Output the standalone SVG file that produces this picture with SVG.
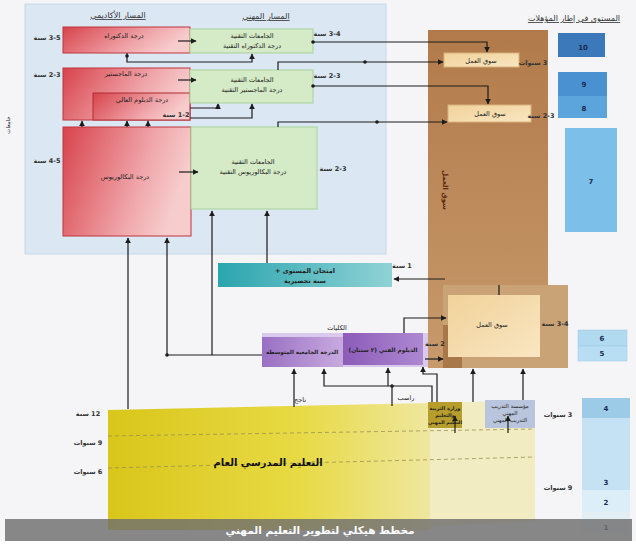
<svg xmlns="http://www.w3.org/2000/svg" width="636" height="547" viewBox="0 0 636 547">
<style>
text{font-family:"DejaVu Sans","Liberation Sans",sans-serif;direction:rtl;unicode-bidi:embed;text-anchor:middle;fill:#222}
.t{font-size:6.5px}
.b{font-size:7px;font-weight:bold}
.lbl{font-size:6.5px;font-weight:bold;fill:#333}
.hd{font-size:8px;text-decoration:underline;fill:#333}
.ln{fill:none;stroke:#1c1c1c;stroke-width:1.2}
.ar{marker-end:url(#ah)}
.dot{fill:#1c1c1c}
.lv{font-size:7px;font-weight:bold;fill:#1a2a50}
</style>
<defs>
<marker id="ah" viewBox="0 0 10 10" refX="9" refY="5" markerWidth="5" markerHeight="5" orient="auto"><path d="M0,0 L10,5 L0,10 z" fill="#1c1c1c"/></marker>
<linearGradient id="red" x1="0" y1="0" x2="1" y2="0.3"><stop offset="0" stop-color="#d8434c"/><stop offset="0.7" stop-color="#f0a8ac"/><stop offset="1" stop-color="#f7cccd"/></linearGradient>
<linearGradient id="cyan" x1="0" y1="0" x2="1" y2="0"><stop offset="0" stop-color="#2ba5ae"/><stop offset="1" stop-color="#8fd2d5"/></linearGradient>
<linearGradient id="pl" x1="0" y1="0" x2="1" y2="0"><stop offset="0" stop-color="#9a70c3"/><stop offset="1" stop-color="#c8aadf"/></linearGradient>
<linearGradient id="pr" x1="0" y1="0" x2="1" y2="0"><stop offset="0" stop-color="#8c5cb8"/><stop offset="1" stop-color="#ae88d2"/></linearGradient>
<linearGradient id="yel" x1="0" y1="0" x2="1" y2="0"><stop offset="0" stop-color="#d9c61a"/><stop offset="0.6" stop-color="#e8da45"/><stop offset="1" stop-color="#efe7a0"/></linearGradient>
<linearGradient id="brn" x1="0" y1="0" x2="0" y2="1"><stop offset="0" stop-color="#b27a4a"/><stop offset="1" stop-color="#c79a6c"/></linearGradient>
<linearGradient id="mk" x1="0" y1="0" x2="1" y2="1"><stop offset="0" stop-color="#f1d29a"/><stop offset="1" stop-color="#f9e6c2"/></linearGradient>
</defs>
<rect x="0" y="0" width="636" height="547" fill="#f5f5f7"/>
<g id="panel-blue"><rect x="25" y="4" width="361" height="250" fill="#dbe7f3" stroke="#c7d7e8"/></g>
<g id="headers">
<text class="hd" x="118" y="18">المسار الأكاديمي</text>
<text class="hd" x="266" y="19">المسار المهني</text>
<text class="hd" x="574" y="21">المستوى في إطار المؤهلات</text>
<text class="t" x="10" y="125" transform="rotate(-90 10 125)" style="font-size:5.5px">جامعات</text>
</g>
<g id="brown">
<rect x="428" y="30" width="120" height="338" fill="url(#brn)"/>
<rect x="443" y="285" width="125" height="83" fill="#c9a276"/>
<rect x="443" y="325" width="19" height="43" fill="#a9784a"/>
<text class="b" x="443" y="190" transform="rotate(90 443 190)" style="fill:#5a2a10">سوق العمل</text>
</g>
<g id="doc-red"><rect x="63" y="27" width="127" height="26" fill="url(#red)" stroke="#c0353d"/><text class="t" x="124" y="38">درجة الدكتوراه</text></g>
<g id="doc-green"><rect x="190" y="29" width="123" height="24" fill="#d5eac6" stroke="#a9d39b"/><text class="t" x="252" y="38">الجامعات التقنية</text><text class="t" x="252" y="48">درجة الدكتوراه التقنية</text></g>
<g id="master-red"><rect x="63" y="68" width="127" height="52" fill="url(#red)" stroke="#c0353d"/><text class="t" x="126" y="76">درجة الماجستير</text></g>
<g id="diploma-red"><rect x="93" y="93" width="97" height="27" fill="url(#red)" stroke="#b02a33"/><text class="t" x="142" y="102">درجة الدبلوم العالي</text><text class="lbl" x="176" y="117">1-2 سنة</text></g>
<g id="master-green"><rect x="190" y="70" width="123" height="33" fill="#d5eac6" stroke="#a9d39b"/><text class="t" x="252" y="82">الجامعات التقنية</text><text class="t" x="252" y="92">درجة الماجستير التقنية</text></g>
<g id="bach-red"><rect x="63" y="127" width="128" height="109" fill="url(#red)" stroke="#c0353d"/><text class="t" x="125" y="179">درجة البكالوريوس</text></g>
<g id="bach-green"><rect x="191" y="127" width="126" height="82" fill="#d5eac6" stroke="#a9d39b"/><text class="t" x="253" y="164">الجامعات التقنية</text><text class="t" x="253" y="174">درجة البكالوريوس التقنية</text></g>
<g id="market1"><rect x="444" y="53" width="75" height="14" fill="url(#mk)" stroke="#d8b27c"/><text class="t" x="481" y="63">سوق العمل</text></g>
<g id="market2"><rect x="448" y="105" width="83" height="17" fill="url(#mk)" stroke="#d8b27c"/><text class="t" x="490" y="116">سوق العمل</text></g>
<g id="market3"><rect x="448" y="295" width="92" height="62" fill="url(#mk)"/><text class="t" x="492" y="327">سوق العمل</text></g>
<g id="exam"><rect x="218" y="263" width="174" height="24" fill="url(#cyan)"/><text class="b" x="305" y="273" style="font-size:6.5px">امتحان المستوى +</text><text class="b" x="305" y="283" style="font-size:6.5px">سنة تحضيرية</text></g>
<g id="colleges">
<rect x="262" y="333" width="166" height="34" fill="#d9c9ec"/>
<rect x="262" y="337" width="81" height="30" fill="url(#pl)"/>
<rect x="343" y="333" width="80" height="32" fill="url(#pr)"/>
<text class="t" x="337" y="330">الكليات</text>
<text class="b" x="302" y="354" style="font-size:5.6px">الدرجة الجامعية المتوسطة</text>
<text class="b" x="383" y="352" style="font-size:5.8px">الدبلوم الفني (٢ سنتان)</text>
</g>
<g id="school">
<polygon points="108,410 430,403 430,530 108,530" fill="url(#yel)"/>
<polygon points="430,403 535,400 535,522 430,526" fill="#f1ecc2"/>
<line x1="108" y1="436" x2="535" y2="429" stroke="#9a9050" stroke-width="0.8" stroke-dasharray="4,3"/>
<line x1="108" y1="468" x2="535" y2="457" stroke="#9a9050" stroke-width="0.8" stroke-dasharray="4,3"/>
<text class="b" x="268" y="466" style="font-size:10px;fill:#111">التعليم المدرسي العام</text>
</g>
<g id="ministry"><rect x="428" y="402" width="34" height="26" fill="#b79e2c"/><text class="t" x="445" y="410" style="font-size:5px;font-weight:bold">وزارة التربية</text><text class="t" x="445" y="417" style="font-size:5px;font-weight:bold">والتعليم</text><text class="t" x="445" y="424" style="font-size:4.8px;font-weight:bold">التعليم المهني</text></g>
<g id="training"><rect x="485" y="400" width="50" height="28" fill="#b9c5dd"/><text class="t" x="510" y="408" style="font-size:5.5px">مؤسسة التدريب</text><text class="t" x="510" y="415" style="font-size:5.5px">المهني</text><text class="t" x="510" y="422" style="font-size:5.5px">التدريب المهني</text></g>
<g id="levels">
<rect x="558" y="33" width="47" height="24" fill="#3c79ba"/><text class="lv" x="583" y="50">10</text>
<rect x="558" y="72" width="49" height="24" fill="#4a91d1"/><rect x="558" y="96" width="49" height="22" fill="#5ca4dc"/><text class="lv" x="584" y="87">9</text><text class="lv" x="584" y="111">8</text>
<rect x="565" y="128" width="52" height="104" fill="#7cc0ea"/><text class="lv" x="591" y="184">7</text>
<rect x="578" y="330" width="49" height="16" fill="#b1daf1" stroke="#9cc8e2" stroke-width="0.5"/><rect x="578" y="346" width="49" height="15" fill="#b8def3" stroke="#9cc8e2" stroke-width="0.5"/><text class="lv" x="602" y="341">6</text><text class="lv" x="602" y="356">5</text>
<rect x="582" y="398" width="48" height="20" fill="#9ccbe8"/><text class="lv" x="606" y="411">4</text>
<rect x="582" y="418" width="48" height="72" fill="#c4e2f3"/><text class="lv" x="606" y="485">3</text>
<rect x="582" y="490" width="48" height="22" fill="#dceef8"/><text class="lv" x="606" y="505">2</text>
<rect x="582" y="512" width="48" height="22" fill="#e4eef5"/><text class="lv" x="606" y="530">1</text>
</g>
<g id="durations">
<text class="lbl" x="47" y="40">3-5 سنة</text>
<text class="lbl" x="47" y="77">2-3 سنة</text>
<text class="lbl" x="47" y="163">4-5 سنة</text>
<text class="lbl" x="327" y="36">3-4 سنة</text>
<text class="lbl" x="327" y="78">2-3 سنة</text>
<text class="lbl" x="333" y="171">2-3 سنة</text>
<text class="lbl" x="402" y="268">1 سنة</text>
<text class="lbl" x="533" y="65">3 سنوات</text>
<text class="lbl" x="541" y="118">2-3 سنة</text>
<text class="lbl" x="555" y="326">3-4 سنة</text>
<text class="lbl" x="435" y="346">2 سنة</text>
<text class="lbl" x="88" y="416">12 سنة</text>
<text class="lbl" x="88" y="445">9 سنوات</text>
<text class="lbl" x="88" y="474">6 سنوات</text>
<text class="lbl" x="558" y="417">3 سنوات</text>
<text class="lbl" x="558" y="490">9 سنوات</text>
<text class="t" x="300" y="402">ناجح</text>
<text class="t" x="406" y="400">راسب</text>
</g>
<g id="connectors">
<path class="ln ar" d="M178 41 H196"/>
<path class="ln ar" d="M178 80 H196"/>
<path class="ln ar" d="M179 172 H198"/>
<path class="ln ar" d="M127 53 V62 H252 V54"/>
<path class="ln ar" d="M190 108 H218 V104"/>
<path class="ln ar" d="M190 118 H252 V104"/>
<path class="ln ar" d="M82 127 V121"/>
<path class="ln ar" d="M127 127 V121"/>
<path class="ln ar" d="M148 127 V121"/>
<path class="ln ar" d="M313 42 H487 V52"/>
<path class="ln ar" d="M278 70 V62 H443"/>
<path class="ln ar" d="M313 86 H488 V104"/>
<path class="ln ar" d="M278 127 V122 H447"/>
<path class="ln ar" d="M128 409 V238"/>
<path class="ln ar" d="M262 355 H167 V238"/>
<path class="ln ar" d="M212 355 V211"/>
<path class="ln ar" d="M267 263 V211"/>
<path class="ln ar" d="M445 279 H394"/>
<path class="ln ar" d="M404 333 V318 H446"/>
<path class="ln ar" d="M425 359 H443"/>
<path class="ln" d="M499 285 V295"/>
<path class="ln ar" d="M294 407 V369"/>
<path class="ln ar" d="M432 402 V386 H324 V369"/>
<path class="ln ar" d="M388 386 V368"/>
<path class="ln" d="M392 406 V386"/>
<path class="ln ar" d="M437 402 V374 H423 V367"/>
<path class="ln ar" d="M473 402 V369"/>
<path class="ln ar" d="M523 400 V369"/>
<path class="ln ar" d="M455 433 V416"/>
<path class="ln ar" d="M508 433 V416"/>
<circle class="dot" cx="127" cy="56" r="1.8"/>
<circle class="dot" cx="313" cy="42" r="1.8"/>
<circle class="dot" cx="365" cy="62" r="1.8"/>
<circle class="dot" cx="313" cy="86" r="1.8"/>
<circle class="dot" cx="377" cy="122" r="1.8"/>
<circle class="dot" cx="218" cy="106" r="1.5"/>
<circle class="dot" cx="167" cy="355" r="1.8"/>
<circle class="dot" cx="392" cy="386" r="1.8"/>
</g>
<g id="caption">
<rect x="5" y="519" width="627" height="22" fill="#6f6f6f" fill-opacity="0.82"/>
<rect x="0" y="541" width="636" height="6" fill="#ffffff"/>
<text x="320" y="534" style="font-size:10.5px;font-weight:bold;fill:#ffffff">مخطط هيكلي لتطوير التعليم المهني</text>
</g>
</svg>
